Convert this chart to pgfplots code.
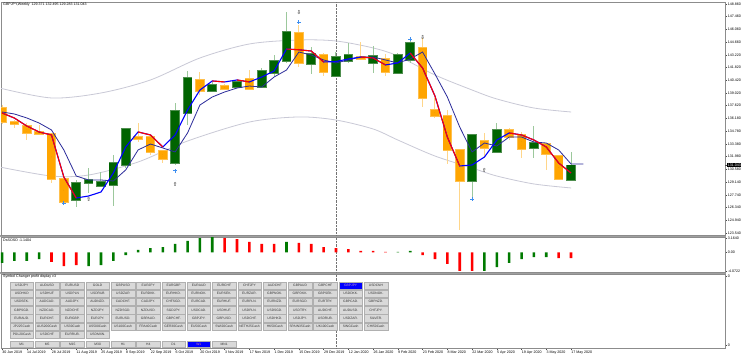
\documentclass[border=0pt]{standalone}
\usepackage{pgfplots}
\pgfplotsset{compat=1.18}
\usepackage{pgfplotstable}
\usepackage{fontspec}
\setmainfont{Liberation Sans}
\newfontfamily\arrowfont{DejaVu Sans}
\definecolor{bullc}{HTML}{006400}
\definecolor{bulledge}{HTML}{4E8E4E}
\definecolor{bullwick}{HTML}{9CC89C}
\definecolor{bearc}{HTML}{FFA500}
\definecolor{bearedge}{HTML}{FFC04D}
\definecolor{bearwick}{HTML}{FFD68A}
\definecolor{maRed}{HTML}{FF0000}
\definecolor{maBlue}{HTML}{0000FF}
\definecolor{navyc}{HTML}{2B2B9A}
\definecolor{envc}{HTML}{C9C9D6}
\definecolor{histG}{HTML}{007A00}
\definecolor{histR}{HTML}{FF0000}
\definecolor{plusc}{HTML}{3D8EF0}
\definecolor{arrowc}{HTML}{8A8A8A}
\definecolor{framec}{HTML}{8C8C8C}
\definecolor{sepc}{HTML}{A0A0A0}
\definecolor{btnfill}{HTML}{D9D9D9}
\definecolor{btnedge}{HTML}{B0B0B0}
\newcommand\tk{\fontsize{3.6}{4}\selectfont}
\newcommand\btnf{\fontsize{3.3}{3.5}\selectfont}

\pgfplotsset{
  candle/.style={only marks, mark size=0pt, mark options={draw=none, fill=none},
    error bars/.cd, y dir=both, y explicit, error mark=none,
    error bar style={draw=#1, solid}},
}

\pgfplotstableread{
i o h l c
6 127.19 129.40 126.41 129.07
7 129.07 130.73 127.96 129.40
8 128.74 130.28 128.63 129.18
9 128.85 132.16 126.53 131.28
10 131.06 135.15 130.73 135.04
14 131.28 137.91 131.06 137.03
15 136.81 141.45 135.48 140.68
17 139.24 140.24 139.13 139.90
19 139.68 140.46 139.57 140.24
21 139.68 141.78 139.57 141.45
22 141.23 143.22 140.90 142.56
23 142.56 147.98 142.34 145.76
25 142.23 144.11 141.12 143.33
27 140.90 143.55 140.79 143.00
28 142.56 144.55 142.34 143.22
30 142.34 144.22 141.23 143.11
32 141.23 143.44 141.12 143.22
33 142.67 144.88 142.34 144.55
38 129.29 134.49 127.52 134.38
40 132.50 135.70 132.39 134.93
43 132.94 135.37 131.83 133.49
46 129.371 132.495 129.283 131.043
}\bull

\pgfplotstableread{
i o h l c
0 137.36 137.69 135.59 135.81
1 135.81 136.03 135.15 135.59
2 135.37 135.70 133.82 134.60
3 134.71 135.48 134.38 134.49
4 134.49 134.60 129.07 129.51
5 129.51 129.95 126.86 126.97
11 134.15 135.70 133.60 133.93
12 134.15 134.26 132.16 132.50
13 132.61 132.72 131.28 131.72
16 140.46 141.34 138.80 139.24
18 139.79 140.01 139.35 139.46
20 140.57 141.56 139.35 139.46
24 145.65 146.54 141.89 142.34
26 143.22 143.44 140.90 141.34
29 143.00 144.66 142.67 142.78
31 142.78 143.33 140.90 141.34
34 143.99 145.10 137.47 138.47
35 137.14 138.47 136.26 136.48
36 136.48 137.14 131.17 132.72
37 132.72 132.83 123.87 129.29
39 133.71 134.60 131.83 132.94
41 134.93 135.15 133.82 134.15
42 134.38 134.71 131.83 132.83
44 133.38 133.49 130.51 132.27
45 132.05 132.16 129.40 129.51
}\bear

\pgfplotstableread{
i v
0 136.81
1 136.25
2 135.37
3 134.71
4 134.38
5 129.73
6 127.41
7 127.63
8 128.07
9 130.17
10 133.05
11 134.71
12 134.38
13 133.05
14 134.38
15 137.14
16 139.35
17 140.35
18 140.24
19 140.46
20 140.24
21 140.79
22 141.45
23 143.88
24 143.80
25 143.66
26 142.45
27 142.50
28 142.78
29 143.00
30 142.89
31 142.12
32 142.34
33 143.44
34 141.78
35 138.69
36 134.15
37 130.95
38 131.06
39 131.94
40 133.82
41 134.60
42 134.38
43 133.82
44 133.05
45 131.28
46 130.17
}\fastma

\pgfplotstableread{
i v
0 136.92
1 136.70
2 136.26
3 135.70
4 134.93
5 132.72
6 129.84
7 129.40
8 129.40
9 129.29
10 130.51
11 132.72
12 133.38
13 132.94
14 132.50
15 134.60
16 137.69
17 138.58
18 139.13
19 139.57
20 139.79
21 139.68
22 140.79
23 141.56
24 143.55
25 143.22
26 142.67
27 142.34
28 142.67
29 143.00
30 143.00
31 142.67
32 142.34
33 142.78
34 143.55
35 141.12
36 138.58
37 135.26
38 132.50
39 133.49
40 133.16
41 134.15
42 134.15
43 133.60
44 133.49
45 132.72
46 131.17
47 131.17
}\slowma

\begin{document}
\begin{tikzpicture}
\useasboundingbox (0,0) rectangle (743pt,356pt);
\fill[white] (0,0) rectangle (743pt,356pt);
% separators
\fill[sepc] (0pt,119pt) rectangle (726pt,121pt);
\fill[sepc] (0pt,82pt) rectangle (726pt,84pt);

% ---------------- main price panel
\begin{axis}[
  at={(1pt,121pt)}, anchor=south west, scale only axis,
  width=724pt, height=233pt,
  xmin=-0.081, xmax=58.448, ymin=123.318, ymax=149.081,
  axis line style={draw=framec, line width=0.8pt},
  xtick=\empty,
  extra x ticks={27}, extra x tick labels={},
  extra x tick style={grid=major, major grid style={densely dotted, black!55, line width=0.5pt}, major tick length=0pt},
  ytick={148.86,147.46,146.06,144.66,143.22,141.82,140.42,139.02,137.62,136.18,134.78,133.38,131.98,130.58,129.14,127.74,126.34,124.94,123.54},
  yticklabels={148.860,147.460,146.060,144.660,143.220,141.820,140.420,139.020,137.620,136.180,134.780,133.380,131.980,130.580,129.140,127.740,126.340,124.940,123.540},
  ytick pos=right, yticklabel pos=right, tick align=outside, major tick length=2pt,
  tick style={draw=black!70, line width=0.4pt},
  yticklabel style={font=\tk, inner sep=0.6pt},
  extra y ticks={131.043}, extra y tick labels={131.043},
  extra y tick style={tick label style={fill=black, text=white, inner sep=0.6pt}},
]
% envelope
\addplot[envc, line width=0.8pt, smooth, mark=none] coordinates {(-0.2,139.57) (4,138.47) (8,139.02) (12,140.46) (16,142.89) (20,144.44) (24,144.88) (27,144.77) (30,144.00) (32,143.11) (35,141.01) (38,139.35) (40,138.36) (43,137.36) (46,136.92)};
\addplot[envc, line width=0.8pt, smooth, mark=none] coordinates {(-0.2,130.84) (4,129.84) (7,129.95) (11,131.39) (15,133.71) (20,135.81) (24,136.37) (27,136.03) (30,135.04) (32,133.82) (35,132.05) (38,130.73) (40,129.84) (43,128.96) (46,128.52)};
% wicks
\addplot[candle=bullwick, error bar style={line width=1pt}]
  table[x=i, y expr={(\thisrow{h}+\thisrow{l})/2}, y error expr={(\thisrow{h}-\thisrow{l})/2}] {\bull};
\addplot[candle=bearwick, error bar style={line width=1pt}]
  table[x=i, y expr={(\thisrow{h}+\thisrow{l})/2}, y error expr={(\thisrow{h}-\thisrow{l})/2}] {\bear};
% bodies
\addplot[candle=bulledge, error bar style={line width=9.6pt}]
  table[x=i, y expr={(\thisrow{o}+\thisrow{c})/2}, y error expr={abs(\thisrow{c}-\thisrow{o})/2+0.07}] {\bull};
\addplot[candle=bullc, error bar style={line width=8pt}]
  table[x=i, y expr={(\thisrow{o}+\thisrow{c})/2}, y error expr={abs(\thisrow{c}-\thisrow{o})/2}] {\bull};
\addplot[candle=bearedge, error bar style={line width=9.6pt}]
  table[x=i, y expr={(\thisrow{o}+\thisrow{c})/2}, y error expr={abs(\thisrow{c}-\thisrow{o})/2+0.07}] {\bear};
\addplot[candle=bearc, error bar style={line width=8pt}]
  table[x=i, y expr={(\thisrow{o}+\thisrow{c})/2}, y error expr={abs(\thisrow{c}-\thisrow{o})/2}] {\bear};
% moving averages
\addplot[navyc, line width=0.8pt, mark=none] table[x=i, y=v] {\slowma};
\addplot[maBlue, line width=1.1pt, mark=none] table[x=i, y=v] {\fastma};
\addplot[maRed, line width=1.1pt, mark=none, unbounded coords=jump] coordinates {
 (0,136.81) (1,136.25) (2,135.37) (3,134.71) (4,134.38) (5,129.73) (6,127.41) (6.5,nan)
 (11,134.71) (12,134.38) (13,133.05) (13.5,nan)
 (17,140.35) (18,140.24) (18.5,nan)
 (19,140.46) (20,140.24) (20.5,nan)
 (23,143.88) (24,143.80) (25,143.66) (26,142.45) (26.5,nan)
 (29,143.00) (30,142.89) (31,142.12) (31.5,nan)
 (33,143.44) (34,141.78) (35,138.69) (36,134.15) (37,130.95) (37.5,nan)
 (41,134.60) (42,134.38) (43,133.82) (44,133.05) (45,131.28) (46,130.17)};
% signal marks
\addplot[only marks, color=arrowc, mark=text, text mark={\arrowfont\fontsize{5.5}{5.5}\selectfont ⇧}] coordinates {(7,127.30) (14,128.96) (39,130.51)};
\addplot[only marks, color=arrowc, mark=text, text mark={\arrowfont\fontsize{5.5}{5.5}\selectfont ⇩}] coordinates {(24,147.87) (34,145.10)};
\addplot[only marks, color=plusc, mark=+, mark size=1.8pt, line width=0.9pt] coordinates {(5,126.86) (14,130.40) (24,146.87) (33,144.99) (38,127.30)};
\end{axis}

% ---------------- indicator panel
\begin{axis}[
  at={(1pt,84pt)}, anchor=south west, scale only axis,
  width=724pt, height=35pt,
  xmin=-0.081, xmax=58.448, ymin=-4.292, ymax=3.373,
  axis line style={draw=framec, line width=0.8pt},
  xtick=\empty,
  extra x ticks={27}, extra x tick labels={},
  extra x tick style={grid=major, major grid style={densely dotted, black!55, line width=0.5pt}, major tick length=0pt},
  ytick={3.164,0,-4.0722}, yticklabels={3.1640,0.00,-4.0722},
  ytick pos=right, yticklabel pos=right, tick align=outside, major tick length=2pt,
  tick style={draw=black!70, line width=0.4pt},
  yticklabel style={font=\tk, inner sep=0.6pt},
]
\addplot[ybar, bar width=2.6pt, fill=histG, draw=none] coordinates {
 (0,-2.32) (1,-1.88) (2,-1.88) (3,-1.45) (7,-2.98) (8,-2.76) (9,-1.88) (10,-0.57)
 (11,0.53) (12,0.96) (13,1.18) (14,1.84) (15,2.50) (16,3.15) (17,3.37) (23,2.28)
 (32,0.10) (33,0.31) (39,-4.07) (40,-3.20) (41,-2.32) (42,-1.45) (43,-1.01) (44,-1.01)};
\addplot[ybar, bar width=2.6pt, fill=histR, draw=none] coordinates {
 (4,-2.10) (5,-2.98) (6,-2.76) (18,3.15) (19,2.93) (20,2.28) (21,1.84) (22,1.84)
 (24,2.06) (25,1.84) (26,1.18) (27,0.96) (28,0.74) (29,0.31) (30,0.31) (31,0.10)
 (34,-0.57) (35,-1.45) (36,-2.54) (37,-4.07) (38,-4.07) (45,-1.23) (46,-1.23)};
\end{axis}

% ---------------- symbol changer panel
\begin{axis}[
  at={(1pt,8pt)}, anchor=south west, scale only axis,
  width=724pt, height=74pt,
  xmin=-0.081, xmax=58.448, ymin=0, ymax=1,
  axis line style={draw=framec, line width=0.8pt},
  xtick={0,2,...,46},
  xticklabels={30 Jun 2019, 14 Jul 2019, 28 Jul 2019, 11 Aug 2019, 25 Aug 2019, 8 Sep 2019, 22 Sep 2019, 6 Oct 2019, 20 Oct 2019, 3 Nov 2019, 17 Nov 2019, 1 Dec 2019, 15 Dec 2019, 29 Dec 2019, 12 Jan 2020, 26 Jan 2020, 9 Feb 2020, 23 Feb 2020, 8 Mar 2020, 22 Mar 2020, 5 Apr 2020, 19 Apr 2020, 3 May 2020, 17 May 2020},
  xtick pos=bottom,
  xticklabel style={font=\tk, anchor=north west, inner sep=0.5pt, xshift=-0.3pt},
  extra x ticks={27}, extra x tick labels={},
  extra x tick style={grid=major, major grid style={densely dotted, black!55, line width=0.5pt}, major tick length=0pt},
  ytick={0.0405,0.973}, yticklabels={0,0},
  ytick pos=right, yticklabel pos=right, tick align=outside, major tick length=2pt,
  tick style={draw=black!70, line width=0.4pt},
  yticklabel style={font=\tk, inner sep=0.6pt},
]
\end{axis}

% texts
\node[anchor=west, font=\tk, inner sep=0pt] at (3pt,351pt) {GBPJPY,Weekly\ \ 129.371 132.495 129.283 131.043};
\node[anchor=west, font=\tk, inner sep=0pt] at (3pt,116pt) {DsSOSO -1.1404};
\node[anchor=west, font=\tk, inner sep=0pt] at (3pt,79pt) {Symbol Changer profit display v3};

% buttons
\newcommand{\btnrow}[2]{%
 \foreach \t [count=\c from 0] in {#2} {%
   \pgfmathsetmacro\bx{10+25.3*\c}%
   \pgfmathsetmacro\by{356-(281.7+8.2*#1)}%
   \draw[fill=btnfill, draw=btnedge, line width=0.4pt] (\bx pt,\by pt) rectangle ++(23.5pt,-7.4pt);
   \node[font=\btnf, text=black!80, inner sep=0pt] at (\bx pt+11.75pt,\by pt-3.7pt) {\t};
 }}
\btnrow{0}{USDJPY,AUDUSD,EURUSD,GOLD,GBPUSD,EURJPY,EURGBP,EURAUD,EURCHF,CHFJPY,AUDCHF,GBPAUD,GBPCHF,GBPJPY,USDCNH}
\btnrow{1}{USDHKD,USDHUF,USDPLN,USDRUB,USDZAR,EURDKK.,EURHKD.,EURNOK.,EURSEK.,EURZAR.,GBPNOK.,GBPDKK.,GBPSEK.,USDDKK.,USDNOK.}
\btnrow{2}{USDSEK.,AUDCAD.,AUDJPY.,AUDNZD.,CADCHF.,CADJPY.,CHFSGD.,EURCAD.,EURHUF.,EURPLN.,EURNZD.,EURSGD.,EURTRY.,GBPCAD.,GBPNZD.}
\btnrow{3}{GBPSGD.,NZDCAD.,NZDCHF.,NZDJPY.,NZDSGD.,NZDUSD.,SGDJPY.,USDCAD.,USDHUF.,USDPLN.,USDSGD.,USDTRY.,AUDCHF.,AUDUSD.,CHFJPY.}
\btnrow{4}{EURAUD.,EURCHF.,EURGBP.,EURJPY.,EURUSD.,GBPAUD.,GBPCHF.,GBPJPY.,GBPUSD.,USDCHF.,USDHKD.,USDJPY.,USDRUB.,USDZAR.,SILVER.}
\btnrow{5}{JP225Cash,AUS200Cash,US30Cash,US500Cash,US100Cash,FRA40Cash,GER30Cash,EU50Cash,SWI20Cash,NETH25Cash,HK50Cash,SPAIN35Cash,UK100Cash,SINGCash,CHI50Cash}
\btnrow{6}{POL20Cash,USDCHF,EURRUB.,USDMXN.}
% highlighted symbol
\pgfmathsetmacro\hx{10+25.3*13}
\draw[fill=blue, draw=btnedge, line width=0.4pt] (\hx pt,74.3pt) rectangle ++(23.5pt,-7.4pt);
\node[font=\btnf, text=violet!40, inner sep=0pt] at (\hx pt+11.75pt,70.6pt) {GBPJPY};
% timeframe buttons
\foreach \t [count=\c from 0] in {M1,M5,M15,M30,H1,H4,D1,W1,MN1} {%
  \pgfmathsetmacro\bx{10+25.3*\c}%
  \draw[fill=btnfill, draw=btnedge, line width=0.4pt] (\bx pt,15pt) rectangle ++(23.5pt,-6.6pt);
  \node[font=\btnf, text=black!80, inner sep=0pt] at (\bx pt+11.75pt,11.7pt) {\t};
}
\pgfmathsetmacro\wx{10+25.3*7}
\draw[fill=blue, draw=btnedge, line width=0.4pt] (\wx pt,15pt) rectangle ++(23.5pt,-6.6pt);
\node[font=\btnf, text=red!60!violet!50, inner sep=0pt] at (\wx pt+11.75pt,11.7pt) {W1};
\end{tikzpicture}
\end{document}
